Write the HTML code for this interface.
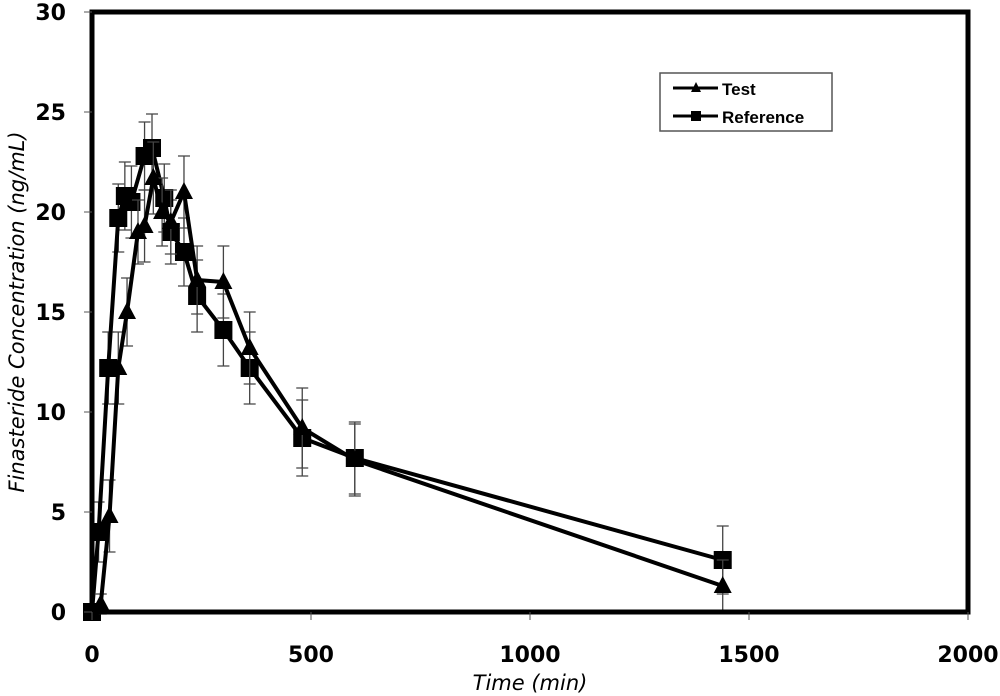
<!DOCTYPE html>
<html><head><meta charset="utf-8"><style>
html,body{margin:0;padding:0;background:#fff;}
svg{display:block;font-family:"DejaVu Sans","Liberation Sans",sans-serif;}
</style></head><body>
<svg id="chart" width="1000" height="696" viewBox="0 0 1000 696" xmlns="http://www.w3.org/2000/svg">
<g id="grid"></g>
<g id="series"></g>
<rect x="92" y="12" width="876" height="600" fill="none" stroke="#000" stroke-width="5"/>
<g id="axes"></g>
<text x="530" y="690" text-anchor="middle" font-size="21" font-style="italic">Time (min)</text>
<text transform="translate(24,312) rotate(-90)" text-anchor="middle" font-size="21" font-style="italic">Finasteride Concentration (ng/mL)</text>
<g>
<rect x="660" y="73" width="172" height="58" fill="#fff" stroke="#555" stroke-width="1.5"/>
<line x1="673" y1="88" x2="718" y2="88" stroke="#000" stroke-width="3"/>
<polygon points="696,82 701,92 691,92" fill="#000"/>
<text x="722" y="95" font-size="17" font-weight="bold" font-family="Liberation Sans,sans-serif">Test</text>
<line x1="673" y1="116" x2="718" y2="116" stroke="#000" stroke-width="3"/>
<rect x="691" y="111" width="10" height="10" fill="#000"/>
<text x="722" y="123" font-size="17" font-weight="bold" font-family="Liberation Sans,sans-serif">Reference</text>
</g>
</svg>
<script>
const xTicks=[0,500,1000,1500,2000];
const yTicks=[0,5,10,15,20,25,30];
const testTime=[0,20,40,60,80,105,120,140,160,180,210,240,300,360,480,600,1440];
const testConc=[0,0.4,4.8,12.2,15.0,19.0,19.3,21.7,20.0,19.5,21.0,16.6,16.5,13.2,9.2,7.6,1.3];
const testSD=[0,0.5,1.8,1.8,1.7,1.6,1.8,1.8,1.7,1.6,1.8,1.7,1.8,1.8,2.0,1.8,1.3];
const refTime=[0,15,37,60,75,90,120,137,165,180,210,240,300,360,480,600,1440];
const refConc=[0,4.0,12.2,19.7,20.8,20.5,22.8,23.2,20.7,19.0,18.0,15.8,14.1,12.2,8.7,7.7,2.6];
const refSD=[0,1.5,1.8,1.7,1.7,1.8,1.7,1.7,1.7,1.6,1.7,1.8,1.8,1.8,1.9,1.8,1.7];
const NS="http://www.w3.org/2000/svg";
const X=v=>92+v*(876/2000);
const Y=v=>612-v*20;
function mk(tag,attrs,parent){const e=document.createElementNS(NS,tag);for(const k in attrs)e.setAttribute(k,attrs[k]);parent.appendChild(e);return e;}
const axes=document.getElementById('axes');
xTicks.forEach(t=>{
 const l=mk('line',{x1:X(t),x2:X(t),y1:612,y2:620,stroke:'#555','stroke-width':1},axes);
 
 
 const tx=mk('text',{x:X(t),y:662,'text-anchor':'middle','font-size':22,'font-weight':'bold'},axes);
 
 
 tx.textContent=t;
});
yTicks.forEach(t=>{
 const l=mk('line',{x1:84,x2:92,y1:Y(t),y2:Y(t),stroke:'#555','stroke-width':1},axes);
 
 
 const tx=mk('text',{x:66,y:Y(t)+8,'text-anchor':'end','font-size':22,'font-weight':'bold'},axes);
 
 
 tx.textContent=t;
});
const sg=document.getElementById('series');
function draw(times,conc,sd,name,marker){
 const g=mk('g',{},sg);
 
 
 times.forEach((t,i)=>{
  if(!sd[i])return;
  const x=X(t),y1=Y(conc[i]+sd[i]),y2=Y(conc[i]-sd[i]);
  const eb=mk('path',{d:`M${x},${y1}V${y2}M${x-6},${y1}H${x+6}M${x-6},${y2}H${x+6}`,stroke:'#444','stroke-width':1.3,fill:'none'},g);
  
  
 });
 const pl=mk('polyline',{points:times.map((t,i)=>X(t)+','+Y(conc[i])).join(' '),fill:'none',stroke:'#000','stroke-width':4,'stroke-linejoin':'round'},g);
 
 
 times.forEach((t,i)=>{
  const x=X(t),y=Y(conc[i]);let m;
  if(marker==='tri') m=mk('polygon',{points:`${x},${y-10} ${x+9},${y+7} ${x-9},${y+7}`,fill:'#000'},g);
  else m=mk('rect',{x:x-9,y:y-9,width:18,height:18,fill:'#000'},g);
  
  
 });
}
draw(refTime,refConc,refSD,'reference','sq');
draw(testTime,testConc,testSD,'test','tri');
</script>
</body></html>
